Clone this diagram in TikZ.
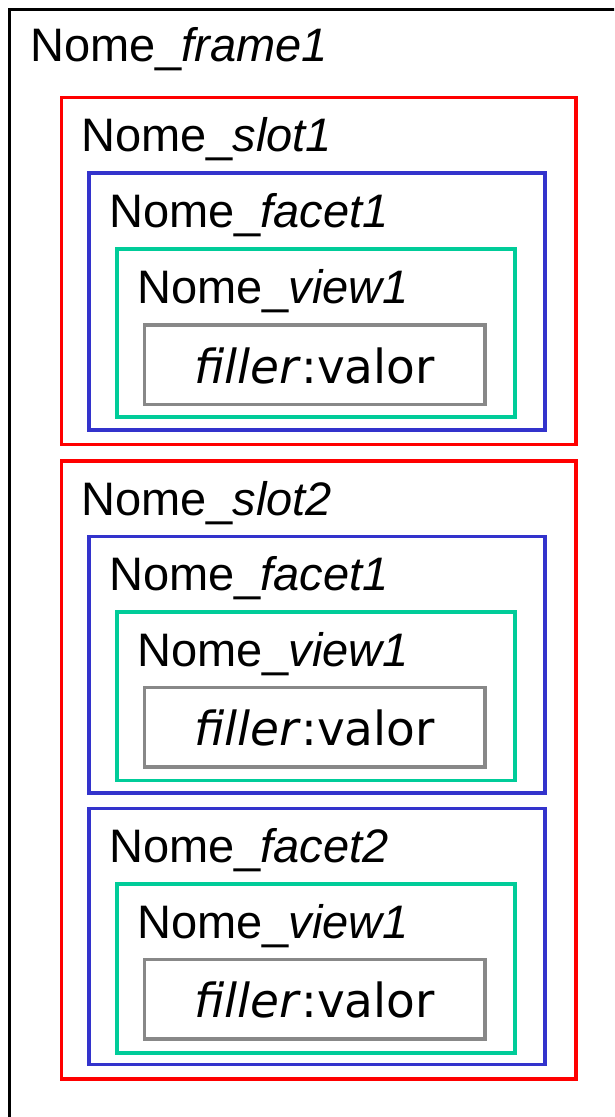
\documentclass[tikz,border=0pt]{standalone}
\usepackage{fontspec}
\setmainfont{Liberation Sans}
\newfontfamily\dvfont{DejaVu Sans}
\definecolor{slotred}{HTML}{FF0000}
\definecolor{facetblue}{HTML}{3333CC}
\definecolor{viewgreen}{HTML}{00CC99}
\definecolor{fillgray}{HTML}{888888}
\tikzset{
  box/.style={line width=3.5pt},
  framebox/.style={box, draw=black},
  slotbox/.style={box, draw=slotred},
  facetbox/.style={box, draw=facetblue},
  viewbox/.style={box, draw=viewgreen},
  fillerbox/.style={box, draw=fillgray},
  lbl/.style={anchor=base west, inner sep=0pt, font=\fontsize{47}{56}\selectfont},
  fil/.style={anchor=base, inner sep=0pt, font=\dvfont\fontsize{47}{56}\selectfont},
}
\begin{document}
\begin{tikzpicture}[x=1pt,y=-1pt]
\clip (0,0) rectangle (614,1117);
\fill[white] (0,0) rectangle (614,1117);
% frame
\draw[framebox] (9.5,9.5) rectangle (640,1140);
\node[lbl] (frame) at (30,61) {Nome\_\textit{frame1}};
% slot 1
\draw[slotbox] (61.5,97.5) rectangle (576,444.5);
\node[lbl] (slot1) at (81,151) {Nome\_\textit{slot1}};
\draw[facetbox] (89,173) rectangle (545,430);
\node[lbl] (s1f1) at (109,227) {Nome\_\textit{facet1}};
\draw[viewbox] (117,249) rectangle (515,417);
\node[lbl] (s1f1v1) at (137,303) {Nome\_\textit{view1}};
\draw[fillerbox] (144.5,325) rectangle (485,404.5);
\node[fil] (s1f1v1f) at (314.5,383) {\textit{filler}:valor};
% slot 2
\draw[slotbox] (61.5,461) rectangle (576,1079);
\node[lbl] (slot2) at (81,515) {Nome\_\textit{slot2}};
\draw[facetbox] (89,536.5) rectangle (545,793);
\node[lbl] (s2f1) at (109,590) {Nome\_\textit{facet1}};
\draw[viewbox] (117,612) rectangle (515,780.5);
\node[lbl] (s2f1v1) at (137,666) {Nome\_\textit{view1}};
\draw[fillerbox] (144.5,687.5) rectangle (485,767);
\node[fil] (s2f1v1f) at (314.5,745.5) {\textit{filler}:valor};
\draw[facetbox] (89,808.5) rectangle (545,1064.5);
\node[lbl] (s2f2) at (109,862) {Nome\_\textit{facet2}};
\draw[viewbox] (117,884) rectangle (515,1053);
\node[lbl] (s2f2v1) at (137,938) {Nome\_\textit{view1}};
\draw[fillerbox] (144.5,959.5) rectangle (485,1039);
\node[fil] (s2f2v1f) at (314.5,1017.5) {\textit{filler}:valor};
\end{tikzpicture}
\end{document}
